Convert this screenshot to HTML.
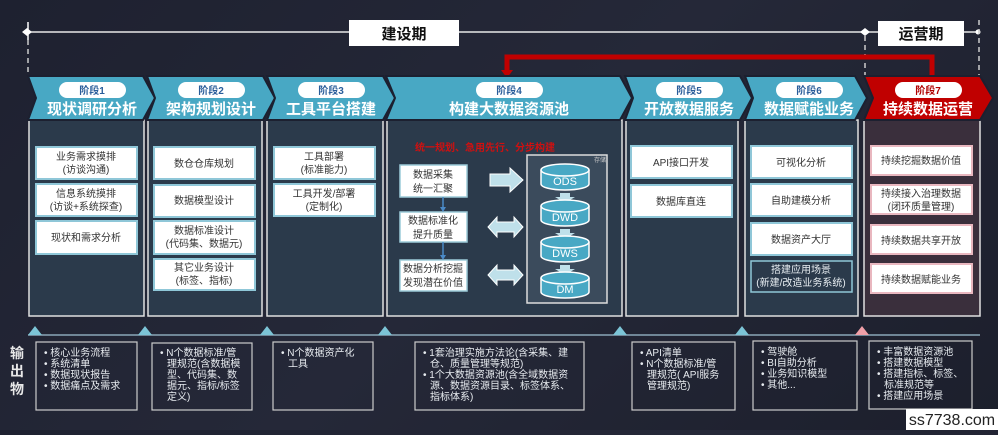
<!DOCTYPE html>
<html><head><meta charset="utf-8"><style>
body{margin:0;width:998px;height:430px;overflow:hidden;background:linear-gradient(135deg,#1e2130,#252838 50%,#1c1f2c);font-family:"Liberation Sans","Noto Sans CJK SC",sans-serif}
svg text{font-family:"Liberation Sans","Noto Sans CJK SC",sans-serif}
</style></head><body>
<svg width="998" height="430" viewBox="0 0 998 430" xmlns="http://www.w3.org/2000/svg">
<!-- timeline -->
<line x1="28" y1="32" x2="980" y2="32" stroke="#e8e8e8" stroke-width="1.5"/>
<polygon points="22,32 27,28 32,32 27,36" fill="#fff"/>
<line x1="28" y1="22" x2="28" y2="40" stroke="#fff" stroke-width="1.5"/>
<line x1="28" y1="40" x2="28" y2="76" stroke="#ccc" stroke-width="1.5" stroke-dasharray="5,4"/>
<rect x="349" y="20" width="110" height="26" fill="#fff"/>
<text x="404" y="39" font-size="15" font-weight="bold" fill="#111" text-anchor="middle">建设期</text>
<polygon points="860,32 865,28 870,32 865,36" fill="#fff"/>
<line x1="865" y1="36" x2="865" y2="76" stroke="#ccc" stroke-width="1.5" stroke-dasharray="5,4"/>
<circle cx="978" cy="32" r="2.5" fill="#fff"/>
<line x1="979" y1="20" x2="979" y2="76" stroke="#ccc" stroke-width="1.5" stroke-dasharray="5,4"/>
<rect x="878" y="21" width="86" height="25" fill="#fff"/>
<text x="921" y="39" font-size="15" font-weight="bold" fill="#111" text-anchor="middle">运营期</text>
<!-- red loop -->
<polyline points="932,76 932,57 507,57 507,72" fill="none" stroke="#c00000" stroke-width="5"/>
<polygon points="501,70 513,70 507,78" fill="#c00000"/>
<!-- panels -->
<g fill="#2b3a4b" stroke="#e0e0e0" stroke-width="1.5">
<rect x="29" y="120" width="115" height="196"/>
<rect x="148" y="120" width="114" height="196"/>
<rect x="267" y="120" width="116" height="196"/>
<rect x="387" y="120" width="235" height="196"/>
<rect x="626" y="120" width="112" height="196"/>
<rect x="745" y="120" width="113" height="196"/>
</g>
<rect x="864" y="120" width="116" height="196" fill="#3a2f3c" stroke="#e0e0e0" stroke-width="1.5"/>
<!-- chevrons -->
<g fill="#48a8c4" stroke="#1c2030" stroke-width="2">
<polygon points="28,76 143,76 155,98 143,120 28,120 36,98"/>
<polygon points="147,76 263,76 275,98 263,120 147,120 155,98"/>
<polygon points="267,76 383,76 395,98 383,120 267,120 275,98"/>
<polygon points="386,76 620,76 632,98 620,120 386,120 395,98"/>
<polygon points="625,76 740,76 752,98 740,120 625,120 633,98"/>
<polygon points="745,76 855,76 867,98 855,120 745,120 753,98"/>
</g>
<polygon points="864,76 980,76 993,98 980,120 864,120 873,98" fill="#c00000" stroke="#1c2030" stroke-width="2"/>
<g font-size="10" font-weight="bold" text-anchor="middle">
<rect x="59" y="82" width="67" height="16" rx="8" fill="#fff"/><text x="92" y="94" fill="#2a5d9a">阶段1</text>
<rect x="178" y="82" width="67" height="16" rx="8" fill="#fff"/><text x="211" y="94" fill="#2a5d9a">阶段2</text>
<rect x="298" y="82" width="67" height="16" rx="8" fill="#fff"/><text x="331" y="94" fill="#2a5d9a">阶段3</text>
<rect x="476" y="82" width="67" height="16" rx="8" fill="#fff"/><text x="509" y="94" fill="#2a5d9a">阶段4</text>
<rect x="656" y="82" width="67" height="16" rx="8" fill="#fff"/><text x="689" y="94" fill="#2a5d9a">阶段5</text>
<rect x="776" y="82" width="67" height="16" rx="8" fill="#fff"/><text x="809" y="94" fill="#2a5d9a">阶段6</text>
<rect x="895" y="82" width="67" height="16" rx="8" fill="#fff"/><text x="928" y="94" fill="#b00000">阶段7</text>
</g>
<g font-size="15" font-weight="bold" fill="#fff" text-anchor="middle">
<text x="92" y="118" dy="-4">现状调研分析</text>
<text x="211" y="114">架构规划设计</text>
<text x="331" y="114">工具平台搭建</text>
<text x="509" y="114">构建大数据资源池</text>
<text x="689" y="114">开放数据服务</text>
<text x="809" y="114">数据赋能业务</text>
<text x="928" y="114">持续数据运营</text>
</g>
<!-- white item boxes -->
<g fill="#fff" stroke="#8fc7d8" stroke-width="2">
<rect x="36" y="147" width="101" height="32"/><rect x="36" y="184" width="101" height="32"/><rect x="36" y="221" width="101" height="33"/>
<rect x="154" y="147" width="101" height="32"/><rect x="154" y="185" width="101" height="32"/><rect x="154" y="221" width="101" height="33"/><rect x="154" y="259" width="101" height="31"/>
<rect x="274" y="147" width="101" height="32"/><rect x="274" y="184" width="101" height="32"/>
<rect x="631" y="146" width="101" height="32"/><rect x="631" y="185" width="101" height="32"/>
<rect x="751" y="146" width="101" height="32"/><rect x="751" y="184" width="101" height="32"/><rect x="751" y="223" width="101" height="32"/>
</g>
<rect x="751" y="261" width="101" height="31" fill="#2b3a4b" stroke="#8fc7d8" stroke-width="1.5"/>
<g fill="#fff" stroke="#e9b7bf" stroke-width="2">
<rect x="871" y="146" width="101" height="29"/><rect x="871" y="185" width="101" height="29"/><rect x="871" y="225" width="101" height="29"/><rect x="871" y="264" width="101" height="29"/>
</g>
<g font-size="10" fill="#333" text-anchor="middle">
<text x="86" y="160">业务需求摸排</text><text x="86" y="173">(访谈沟通)</text>
<text x="86" y="197">信息系统摸排</text><text x="86" y="210">(访谈+系统探查)</text>
<text x="86" y="241">现状和需求分析</text>
<text x="204" y="167">数仓仓库规划</text>
<text x="204" y="204">数据模型设计</text>
<text x="204" y="234">数据标准设计</text><text x="204" y="247">(代码集、数据元)</text>
<text x="204" y="271">其它业务设计</text><text x="204" y="284">(标签、指标)</text>
<text x="324" y="160">工具部署</text><text x="324" y="173">(标准能力)</text>
<text x="324" y="197">工具开发/部署</text><text x="324" y="210">(定制化)</text>
<text x="681" y="166">API接口开发</text>
<text x="681" y="205">数据库直连</text>
<text x="801" y="166">可视化分析</text>
<text x="801" y="204">自助建模分析</text>
<text x="801" y="243">数据资产大厅</text>
<text x="921" y="164">持续挖掘数据价值</text>
<text x="921" y="197">持续接入治理数据</text><text x="921" y="210">(闭环质量管理)</text>
<text x="921" y="244">持续数据共享开放</text>
<text x="921" y="283">持续数据赋能业务</text>
</g>
<g font-size="10" fill="#e8eef2" text-anchor="middle"><text x="801" y="273">搭建应用场景</text><text x="801" y="286">(新建/改造业务系统)</text></g>
<!-- stage 4 inner -->
<text x="485" y="151" font-size="10" font-weight="bold" fill="#d01010" text-anchor="middle">统一规划、急用先行、分步构建</text>
<rect x="527" y="155" width="80" height="148" fill="#3b4b5c" stroke="#ddd" stroke-width="1.5"/>
<text x="600" y="162" font-size="6" fill="#ccc" text-anchor="middle">存储</text>
<g fill="#fff" stroke="#9ccbd9" stroke-width="1.5">
<rect x="400" y="165" width="67" height="32"/><rect x="400" y="212" width="67" height="30"/><rect x="400" y="260" width="67" height="31"/>
</g>
<g font-size="10" fill="#333" text-anchor="middle">
<text x="433" y="178">数据采集</text><text x="433" y="192">统一汇聚</text>
<text x="433" y="224">数据标准化</text><text x="433" y="238">提升质量</text>
<text x="433" y="272">数据分析挖掘</text><text x="433" y="286">发现潜在价值</text>
</g>
<g stroke="#4a8ac8" stroke-width="1.5"><line x1="443" y1="197" x2="443" y2="210"/><line x1="443" y1="242" x2="443" y2="258"/></g>
<g fill="#4a8ac8"><polygon points="440,207 446,207 443,212"/><polygon points="440,255 446,255 443,260"/></g>
<g fill="#bfe0ea" stroke="#fff" stroke-width="1">
<polygon points="490,174 510,174 510,168 523,180 510,192 510,186 490,186"/>
<polygon points="488,227 497,217 497,222 514,222 514,217 523,227 514,237 514,232 497,232 497,237"/>
<polygon points="488,275 497,265 497,270 514,270 514,265 523,275 514,285 514,280 497,280 497,285"/>
</g>
<g fill="#bfe0ea"><polygon points="560,193 570,193 570,197 575,197 565,203 555,197 560,197"/><polygon points="560,229 570,229 570,233 575,233 565,239 555,233 560,233"/><polygon points="560,265 570,265 570,269 575,269 565,275 555,269 560,269"/></g>
<g fill="#48a8c4" stroke="#fff" stroke-width="1.5">
<path d="M541,170 v14 a24,6 0 0 0 48,0 v-14"/><ellipse cx="565" cy="170" rx="24" ry="6"/>
<path d="M541,206 v14 a24,6 0 0 0 48,0 v-14"/><ellipse cx="565" cy="206" rx="24" ry="6"/>
<path d="M541,242 v14 a24,6 0 0 0 48,0 v-14"/><ellipse cx="565" cy="242" rx="24" ry="6"/>
<path d="M541,278 v14 a24,6 0 0 0 48,0 v-14"/><ellipse cx="565" cy="278" rx="24" ry="6"/>
</g>
<g font-size="11" fill="#fff" text-anchor="middle"><text x="565" y="185">ODS</text><text x="565" y="221">DWD</text><text x="565" y="257">DWS</text><text x="565" y="293">DM</text></g>
<!-- bottom timeline -->
<line x1="28" y1="335" x2="980" y2="335" stroke="#8aa7b8" stroke-width="1.5"/>
<g fill="#7cc4d6">
<polygon points="28,335 35,326 42,335"/><polygon points="138,335 145,326 152,335"/><polygon points="260,335 267,326 274,335"/><polygon points="378,335 385,326 392,335"/><polygon points="613,335 620,326 627,335"/><polygon points="735,335 742,326 749,335"/>
</g>
<polygon points="855,335 862,326 869,335" fill="#f0a0a8"/>
<g font-size="14" font-weight="bold" fill="#e8e8e8" text-anchor="middle"><text x="17" y="358">输</text><text x="17" y="376">出</text><text x="17" y="394">物</text></g>
<g fill="none" stroke="#ccc" stroke-width="1.2">
<rect x="36" y="342" width="101" height="68"/><rect x="152" y="343" width="100" height="67"/><rect x="273" y="342" width="100" height="68"/><rect x="415" y="342" width="169" height="68"/><rect x="632" y="342" width="103" height="68"/><rect x="753" y="341" width="104" height="69"/><rect x="869" y="341" width="103" height="68"/>
</g>
<g font-size="10" fill="#e8ecf0">
<text x="44" y="356">• 核心业务流程</text><text x="44" y="367">• 系统清单</text><text x="44" y="378">• 数据现状报告</text><text x="44" y="389">• 数据痛点及需求</text>
<text x="160" y="356">• N个数据标准/管</text><text x="167" y="367">理规范(含数据模</text><text x="167" y="378">型、代码集、数</text><text x="167" y="389">据元、指标/标签</text><text x="167" y="400">定义)</text>
<text x="281" y="356">• N个数据资产化</text><text x="288" y="367">工具</text>
<text x="423" y="356">• 1套治理实施方法论(含采集、建</text><text x="430" y="367">仓、质量管理等规范)</text><text x="423" y="378">• 1个大数据资源池(含全域数据资</text><text x="430" y="389">源、数据资源目录、标签体系、</text><text x="430" y="400">指标体系)</text>
<text x="640" y="356">• API清单</text><text x="640" y="367">• N个数据标准/管</text><text x="647" y="378">理规范( API服务</text><text x="647" y="389">管理规范)</text>
<text x="761" y="355">• 驾驶舱</text><text x="761" y="366">• BI自助分析</text><text x="761" y="377">• 业务知识模型</text><text x="761" y="388">• 其他...</text>
<text x="877" y="355">• 丰富数据资源池</text><text x="877" y="366">• 搭建数据模型</text><text x="877" y="377">• 搭建指标、标签、</text><text x="884" y="388">标准规范等</text><text x="877" y="399">• 搭建应用场景</text>
</g>
<rect x="906" y="409" width="92" height="21" fill="#fff"/>
<text x="952" y="425" font-size="16" fill="#222" text-anchor="middle" font-family="Liberation Mono,monospace">ss7738.com</text>
</svg>
</body></html>
